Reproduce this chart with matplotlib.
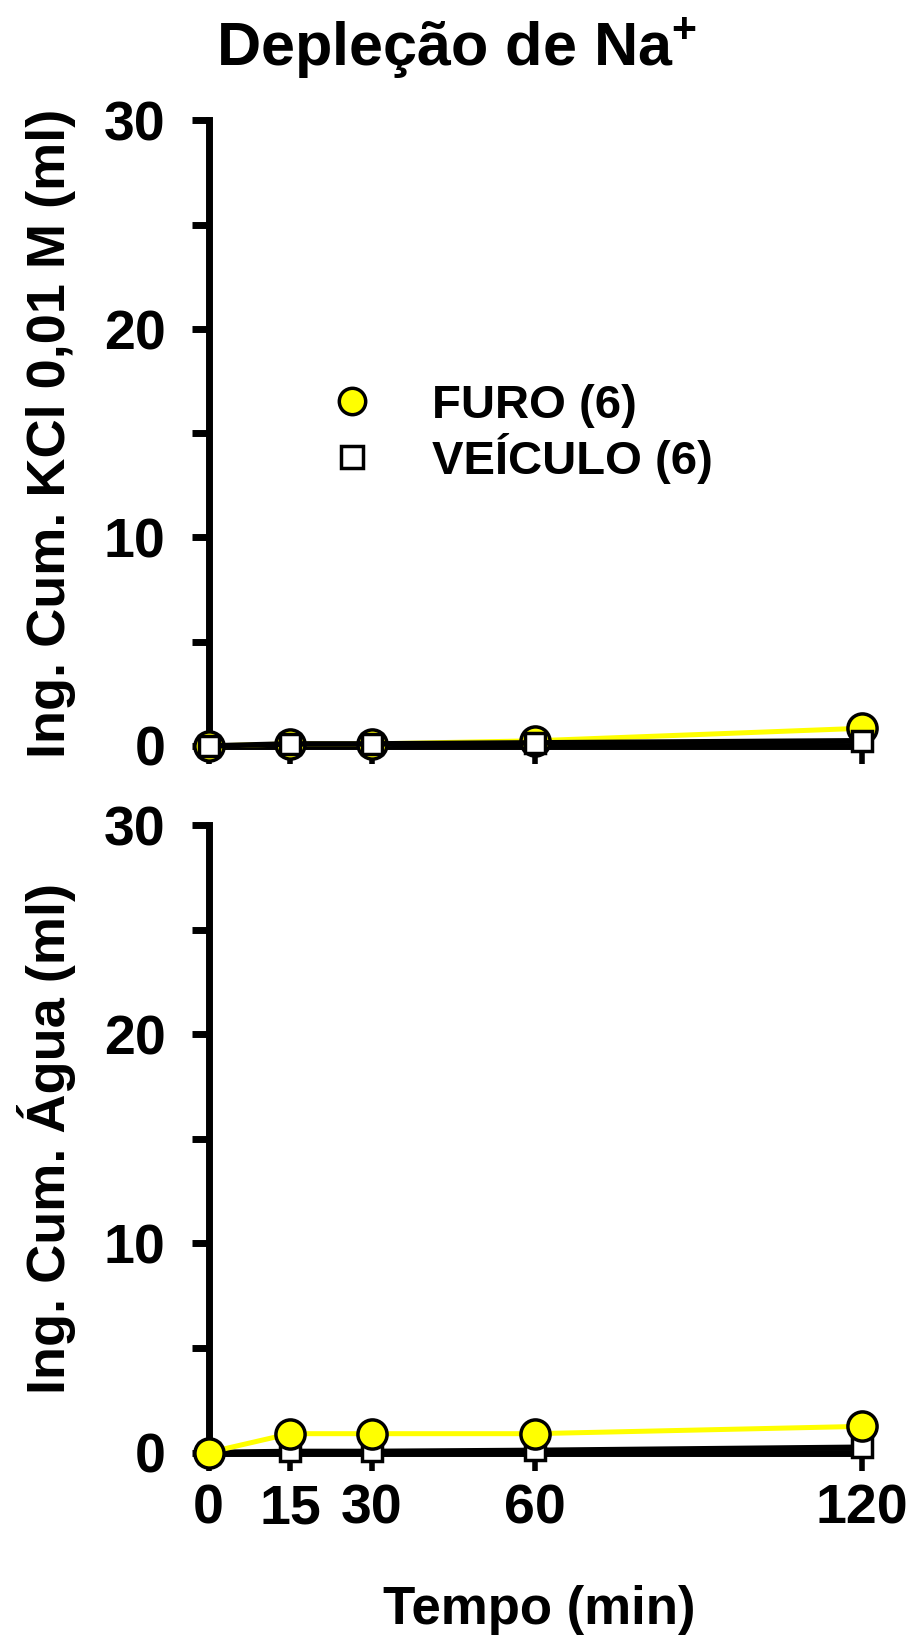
import matplotlib
matplotlib.use('Agg')
import matplotlib.pyplot as plt
from matplotlib.lines import Line2D

plt.rcParams['font.family'] = ['Liberation Sans', 'DejaVu Sans']
plt.rcParams['font.weight'] = 'bold'
plt.rcParams['mathtext.fontset'] = 'custom'
plt.rcParams['mathtext.rm'] = 'Liberation Sans:bold'
plt.rcParams['mathtext.bf'] = 'Liberation Sans:bold'

# tempo (min) e ingestao cumulativa (ml)
tempo = [0, 15, 30, 60, 120]
kcl_furo = [0, 0.1, 0.1, 0.25, 0.85]
kcl_veiculo = [0, 0.1, 0.1, 0.15, 0.25]
agua_furo = [0, 0.9, 0.9, 0.9, 1.25]
agua_veiculo = [0, 0.05, 0.05, 0.1, 0.25]

y_ticks = [0, 5, 10, 15, 20, 25, 30]
y_ticklabels = ['0', '', '10', '', '20', '', '30']
x_ticklabels = ['0', '15', '30', '60', '120']

lab_furo = 'FURO (6)'
lab_veic = 'VEÍCULO (6)'

W, H = 910, 1644
fig = plt.figure(figsize=(W/100, H/100), dpi=100)

x0, x1 = 208.5, 861.5
ax1 = fig.add_axes([x0/W, 1 - 746/H, (x1-x0)/W, (746-120.5)/H])
ax2 = fig.add_axes([x0/W, 1 - 1452.5/H, (x1-x0)/W, (1452.5-825)/H])

def estilo(ax, ylabel, labels_x):
    ax.set_xlim(0, 120)
    ax.set_ylim(0, 30)
    for s in ['top', 'right']:
        ax.spines[s].set_visible(False)
    for s in ['left', 'bottom']:
        ax.spines[s].set_linewidth(5)
    ax.set_yticks(y_ticks)
    ax.set_yticklabels(y_ticklabels)
    ax.set_xticks(tempo)
    if labels_x:
        ax.set_xticklabels(x_ticklabels)
    else:
        ax.set_xticklabels([])
    ax.tick_params(axis='y', direction='out', length=12, width=5, pad=19, labelsize=40)
    ax.tick_params(axis='x', direction='out', length=13, width=4, pad=9, labelsize=40)
    ax.set_ylabel(ylabel, fontsize=39, fontweight='bold')
    ax.yaxis.set_label_coords(-0.203, 0.5)

def desenha(ax, furo, veic, furo_cima):
    zf, zv = (4, 3) if furo_cima else (3, 4)
    ax.plot(tempo, furo, color='#FFFF00', lw=3.6, marker='o', ms=21,
            mfc='#FFFF00', mec='black', mew=2.5, zorder=zf, clip_on=False)
    ax.plot(tempo, veic, color='black', lw=4, marker='s', ms=15,
            mfc='white', mec='black', mew=2.5, zorder=zv, clip_on=False)

estilo(ax1, 'Ing. Cum. KCl 0,01 M (ml)', False)
estilo(ax2, 'Ing. Cum. Água (ml)', True)
desenha(ax1, kcl_furo, kcl_veiculo, False)
desenha(ax2, agua_furo, agua_veiculo, True)

h_furo = Line2D([], [], ls='none', marker='o', ms=19, mfc='#FFFF00', mec='black', mew=2.5)
h_veic = Line2D([], [], ls='none', marker='s', ms=16, mfc='white', mec='black', mew=2.5)
fig.legend([h_furo, h_veic], [lab_furo, lab_veic], loc='upper left',
           bbox_to_anchor=(328.5/W, 1 - 384/H), frameon=False,
           prop={'size': 34, 'weight': 'bold'}, handlelength=1.0,
           handletextpad=1.2, labelspacing=0.1, borderpad=0, borderaxespad=0)

fig.text(457/W, 1 - 66/H, r'Depleção de Na$^{+}$', ha='center', va='baseline',
         fontsize=44, fontweight='bold')
fig.text(539/W, 1 - 1624/H, 'Tempo (min)', ha='center', va='baseline',
         fontsize=38, fontweight='bold')

fig.savefig('out.png', dpi=100)
